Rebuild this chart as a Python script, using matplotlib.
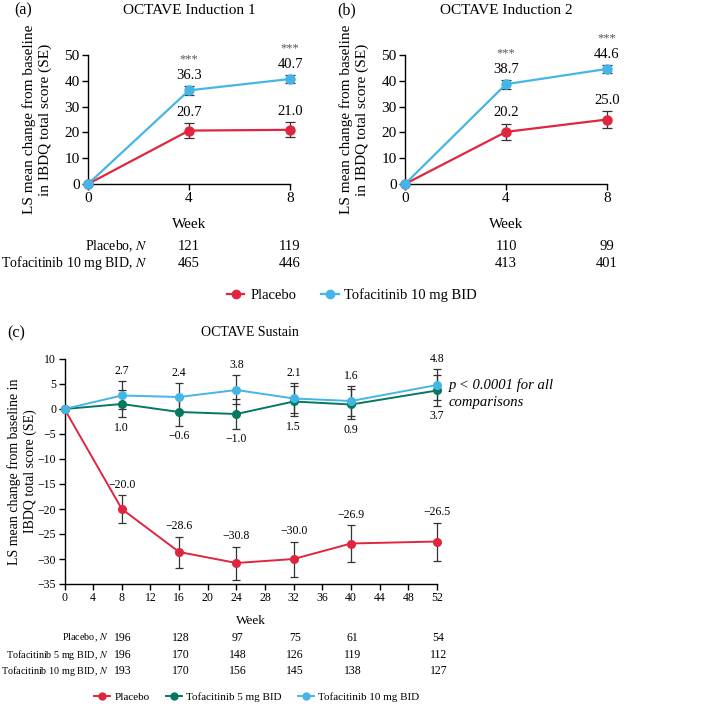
import matplotlib.pyplot as plt
import matplotlib.transforms as mtransforms
from matplotlib.lines import Line2D

plt.rcParams['font.family'] = ['Liberation Serif', 'DejaVu Serif']
plt.rcParams['mathtext.fontset'] = 'stix'

RED = '#e0263f'
BLUE = '#45b5e6'
GREEN = '#05795f'

# induction studies
ind_weeks = [0, 4, 8]
ind1_placebo = [0, 20.7, 21.0]
ind1_placebo_se = [0, 2.9, 2.9]
ind1_tofa10 = [0, 36.3, 40.7]
ind1_tofa10_se = [0, 1.7, 1.5]
ind1_n_placebo = [121, 119]
ind1_n_tofa10 = [465, 446]

ind2_placebo = [0, 20.2, 25.0]
ind2_placebo_se = [0, 3.2, 3.2]
ind2_tofa10 = [0, 38.7, 44.6]
ind2_tofa10_se = [0, 1.7, 1.6]
ind2_n_placebo = [110, 99]
ind2_n_tofa10 = [413, 401]

# sustain study
sus_weeks = [0, 8, 16, 24, 32, 40, 52]
sus_placebo = [0, -20.0, -28.6, -30.8, -30.0, -26.9, -26.5]
sus_placebo_se = [0, 2.8, 3.1, 3.3, 3.5, 3.7, 3.8]
sus_tofa5 = [0, 1.0, -0.6, -1.0, 1.5, 0.9, 3.7]
sus_tofa5_se = [0, 2.7, 2.8, 3.0, 3.0, 3.0, 3.1]
sus_tofa10 = [0, 2.7, 2.4, 3.8, 2.1, 1.6, 4.8]
sus_tofa10_se = [0, 2.8, 2.8, 2.9, 3.0, 3.0, 3.1]
sus_n_weeks = [8, 16, 24, 32, 40, 52]
sus_n_placebo = [196, 128, 97, 75, 61, 54]
sus_n_tofa5 = [196, 170, 148, 126, 119, 112]
sus_n_tofa10 = [193, 170, 156, 145, 138, 127]

W, H = 726, 706
fig = plt.figure(figsize=(W / 100, H / 100), dpi=100)


def px_axes(x0, y0, x1, y1):
    return fig.add_axes([x0 / W, 1 - y1 / H, (x1 - x0) / W, (y1 - y0) / H])


def fy(y):
    return 1 - y / H


def series(ax, x, y, se, color, ms=6.5, lw=1.6, cap=3.6):
    ax.plot(x, y, color=color, lw=lw, zorder=3, clip_on=False)
    ax.errorbar(x[1:], y[1:], yerr=se[1:], fmt='none', ecolor='#333333',
                elinewidth=0.9, capsize=cap, capthick=0.9, zorder=2, clip_on=False)
    ax.plot(x, y, 'o', color=color, ms=ms, zorder=4, clip_on=False)


def style(ax, fs):
    for s in ['top', 'right']:
        ax.spines[s].set_visible(False)
    for s in ['left', 'bottom']:
        ax.spines[s].set_linewidth(1.0)
    ax.tick_params(labelsize=fs, length=4, width=1.0, pad=2)


def induction(ax, placebo, p_se, tofa, t_se, n_p, n_t, title, letter, letter_x, show_labels):
    series(ax, ind_weeks, placebo, p_se, RED)
    series(ax, ind_weeks, tofa, t_se, BLUE)
    ax.set_xlim(0, 8)
    ax.set_ylim(0, 50)
    ax.set_xticks(ind_weeks)
    ax.set_yticks(range(0, 51, 10))
    style(ax, 11)
    ax.set_ylabel('LS mean change from baseline\nin IBDQ total score (SE)', fontsize=11)
    ax.yaxis.set_label_coords(-0.178, 0.5)
    ax.set_xlabel('Week', fontsize=11, labelpad=9)
    for i in (1, 2):
        ax.annotate(f'{placebo[i]:.1f}', (ind_weeks[i], placebo[i] + p_se[i]), xytext=(0, 3),
                    textcoords='offset points', ha='center', va='bottom', fontsize=10.5)
        ax.annotate(f'{tofa[i]:.1f}', (ind_weeks[i], tofa[i] + t_se[i]), xytext=(0, 3),
                    textcoords='offset points', ha='center', va='bottom', fontsize=10.5)
        ax.annotate('***', (ind_weeks[i], tofa[i] + t_se[i]), xytext=(0, 15),
                    textcoords='offset points', ha='center', va='bottom', fontsize=9, color='#555555')
    trans = mtransforms.blended_transform_factory(ax.transData, fig.transFigure)
    for i, wk in enumerate(ind_weeks[1:]):
        ax.text(wk, fy(246), str(n_p[i]), transform=trans, ha='center', va='center', fontsize=10.5)
        ax.text(wk, fy(263), str(n_t[i]), transform=trans, ha='center', va='center', fontsize=10.5)
    if show_labels:
        fig.text(148 / W, fy(246), 'Placebo, $N$', ha='right', va='center', fontsize=10)
        fig.text(148 / W, fy(263), 'Tofacitinib 10 mg BID, $N$', ha='right', va='center', fontsize=10)
    cx = (ax.get_position().x0 + ax.get_position().x1) / 2
    fig.text(cx, fy(10), title, ha='center', va='center', fontsize=11)
    fig.text(letter_x / W, fy(10), letter, ha='center', va='center', fontsize=11.5)


ax_a = px_axes(88, 55, 290, 184)
induction(ax_a, ind1_placebo, ind1_placebo_se, ind1_tofa10, ind1_tofa10_se,
          ind1_n_placebo, ind1_n_tofa10, 'OCTAVE Induction 1', '(a)', 23, True)
ax_b = px_axes(405, 55, 607, 184)
induction(ax_b, ind2_placebo, ind2_placebo_se, ind2_tofa10, ind2_tofa10_se,
          ind2_n_placebo, ind2_n_tofa10, 'OCTAVE Induction 2', '(b)', 347, False)

h_top = [Line2D([], [], color=RED, marker='o', ms=6, lw=1.6),
         Line2D([], [], color=BLUE, marker='o', ms=6, lw=1.6)]
fig.legend(h_top, ['Placebo', 'Tofacitinib 10 mg BID'], loc='center', bbox_to_anchor=(352 / W, fy(295)),
           ncol=2, frameon=False, fontsize=10.5, handlelength=1.2, columnspacing=1.7, handletextpad=0.4)

# panel c
ax_c = px_axes(64.5, 359, 437, 584)
series(ax_c, sus_weeks, sus_placebo, sus_placebo_se, RED, ms=5.5, lw=1.4, cap=3)
series(ax_c, sus_weeks, sus_tofa5, sus_tofa5_se, GREEN, ms=5.5, lw=1.4, cap=3)
series(ax_c, sus_weeks, sus_tofa10, sus_tofa10_se, BLUE, ms=5.5, lw=1.4, cap=3)
ax_c.set_xlim(0, 52)
ax_c.set_ylim(-35, 10)
ax_c.set_xticks(range(0, 53, 4))
ax_c.set_yticks(range(-35, 11, 5))
ax_c.set_yticklabels([f'{v}'.replace('-', '\u2212') for v in range(-35, 11, 5)])
style(ax_c, 8.5)
ax_c.set_ylabel('LS mean change from baseline in\nIBDQ total score (SE)', fontsize=10)
ax_c.yaxis.set_label_coords(-0.074, 0.5)
ax_c.set_xlabel('Week', fontsize=9.5, labelpad=8)


def fmt(v):
    return f'{v:.1f}'.replace('-', '\u2212')


for i in range(1, len(sus_weeks)):
    wk = sus_weeks[i]
    ax_c.annotate(fmt(sus_placebo[i]), (wk, sus_placebo[i] + sus_placebo_se[i]), xytext=(0, 3),
                  textcoords='offset points', ha='center', va='bottom', fontsize=8.5)
    ax_c.annotate(fmt(sus_tofa10[i]), (wk, sus_tofa10[i] + sus_tofa10_se[i]), xytext=(0, 3),
                  textcoords='offset points', ha='center', va='bottom', fontsize=8.5)
    ax_c.annotate(fmt(sus_tofa5[i]), (wk, sus_tofa5[i] - sus_tofa5_se[i]), xytext=(0, -3),
                  textcoords='offset points', ha='center', va='top', fontsize=8.5)

trans_c = mtransforms.blended_transform_factory(ax_c.transData, fig.transFigure)
rows = [('Placebo, $N$', sus_n_placebo, 638),
        ('Tofacitinib 5 mg BID, $N$', sus_n_tofa5, 655),
        ('Tofacitinib 10 mg BID, $N$', sus_n_tofa10, 671)]
for label, vals, y in rows:
    fig.text(108 / W, fy(y), label, ha='right', va='center', fontsize=7.3)
    for wk, v in zip(sus_n_weeks, vals):
        ax_c.text(wk + 0.2, fy(y), str(v), transform=trans_c, ha='center', va='center', fontsize=8.5)

fig.text(16 / W, fy(333), '(c)', ha='center', va='center', fontsize=11.5)
fig.text(250 / W, fy(332), 'OCTAVE Sustain', ha='center', va='center', fontsize=10)
fig.text(449 / W, fy(394), 'p < 0.0001 for all\ncomparisons', ha='left', va='center',
         fontsize=10.5, style='italic', linespacing=1.4)

h_bot = [Line2D([], [], color=RED, marker='o', ms=5, lw=1.4),
         Line2D([], [], color=GREEN, marker='o', ms=5, lw=1.4)]
h_bot.append(Line2D([], [], color=BLUE, marker='o', ms=5, lw=1.4))
fig.legend(h_bot, ['Placebo', 'Tofacitinib 5 mg BID', 'Tofacitinib 10 mg BID'], loc='center',
           bbox_to_anchor=(257 / W, fy(697)), ncol=3, frameon=False, fontsize=8,
           handlelength=1.4, columnspacing=1.5, handletextpad=0.4)

fig.savefig('out.png', dpi=100)
